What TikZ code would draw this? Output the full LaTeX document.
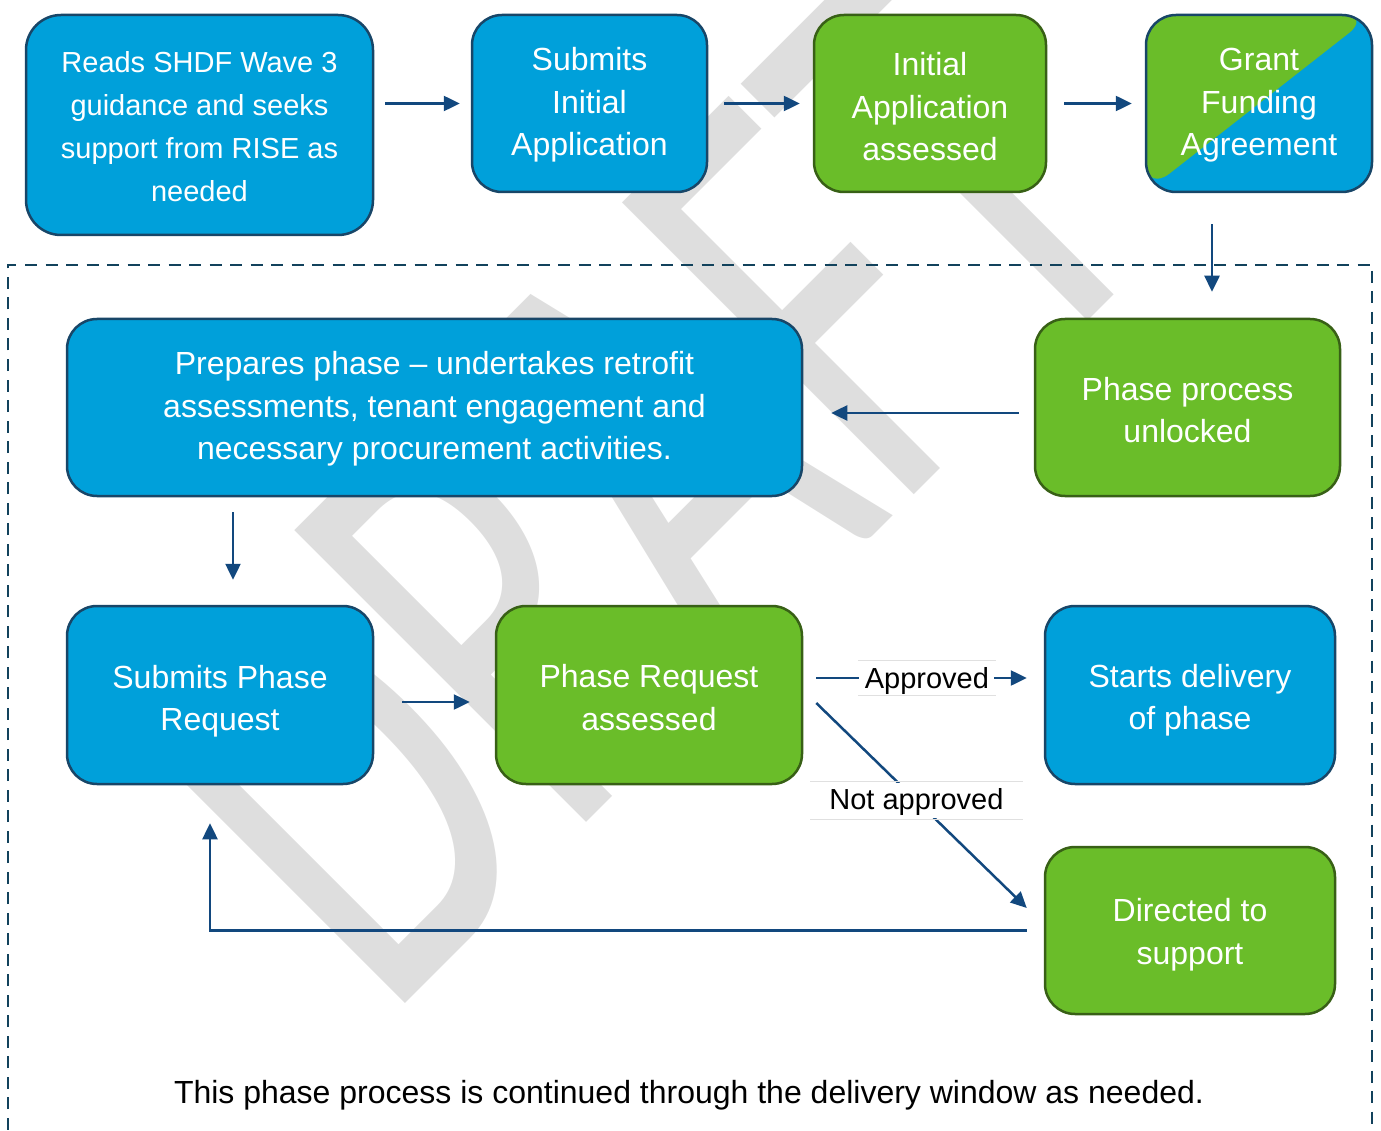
\documentclass[tikz,border=0pt]{standalone}
\usepackage{fontspec}
\setmainfont{Liberation Sans}
\newfontfamily\wmfont{Carlito}
\usetikzlibrary{arrows.meta}
\definecolor{cblue}{RGB}{0,160,218}
\definecolor{cblueb}{RGB}{24,70,104}
\definecolor{cgreen}{RGB}{106,189,41}
\definecolor{cgreenb}{RGB}{56,96,22}
\definecolor{carrow}{RGB}{18,72,126}
\definecolor{cdash}{RGB}{18,66,92}
\definecolor{cwm}{RGB}{222,222,222}
\begin{document}
\begin{tikzpicture}[x=1pt,y=-1pt,
  box/.style={rounded corners=30pt, line width=2.5pt, inner sep=0pt},
  bbox/.style={box, fill=cblue, draw=cblueb},
  gbox/.style={box, fill=cgreen, draw=cgreenb},
  btext/.style={text=white, align=center, inner sep=0pt, font=\fontsize{32}{42.5}\selectfont},
  arr/.style={draw=carrow, line width=2.5pt, -{Triangle[length=16pt,width=15pt]}},
  lbl/.style={fill=white, text=black, font=\fontsize{29}{34}\selectfont, inner ysep=0pt, inner xsep=0pt},
  faint/.style={draw=black!12, line width=0.8pt},
]
\path[use as bounding box] (0,0) rectangle (1381,1131);
\clip (0,0) rectangle (1381,1131);

% watermark
\node[text=cwm, font=\wmfont\fontsize{415}{415}\selectfont, inner sep=0pt, anchor=base west, rotate=45, yscale=1.55] (wm) at (385,1024) {DRAFT};

% dashed frame
\draw[cdash, line width=2.8pt, dash pattern=on 12pt off 8.5pt] (8,1150) -- (8,265) -- (1372,265) -- (1372,1150);

% boxes
\node[bbox, minimum width=347pt, minimum height=220pt, rounded corners=35pt] (b1) at (199.5,125) {};
\node[btext, font=\fontsize{29}{43}\selectfont] (t1) at ([yshift=-2pt]b1.center) {Reads SHDF Wave 3\\guidance and seeks\\support from RISE as\\needed};
\node[bbox, minimum width=235pt, minimum height=177pt] (b2) at (589.5,103.5) {};
\node[btext] (t2) at ([yshift=-1.5pt]b2.center) {Submits\\Initial\\Application};
\node[gbox, minimum width=232pt, minimum height=177pt] (b3) at (930,103.5) {};
\node[btext] (t3) at ([yshift=-3.5pt]b3.center) {Initial\\Application\\assessed};
\node[bbox, minimum width=226pt, minimum height=177pt,
  path picture={\fill[cgreen] (path picture bounding box.south west) -- (path picture bounding box.north west) -- (path picture bounding box.north east) -- cycle;}] (b4) at (1259,103.5) {};
\node[btext] (t4) at ([yshift=-2pt]b4.center) {Grant\\Funding\\Agreement};
\node[bbox, minimum width=735pt, minimum height=177pt] (b5) at (434.5,407.5) {};
\node[btext] (t5) at ([yshift=-1.5pt]b5.center) {Prepares phase -- undertakes retrofit\\assessments, tenant engagement and\\necessary procurement activities.};
\node[gbox, minimum width=305pt, minimum height=177pt] (b6) at (1187.5,407.5) {};
\node[btext] (t6) at ([yshift=-2.5pt]b6.center) {Phase process\\unlocked};
\node[bbox, minimum width=306pt, minimum height=178pt] (b7) at (220,695) {};
\node[btext] (t7) at ([yshift=-6pt]b7.center) {Submits Phase\\Request};
\node[gbox, minimum width=306pt, minimum height=178pt] (b8) at (649,695) {};
\node[btext] (t8) at ([yshift=-2.5pt]b8.center) {Phase Request\\assessed};
\node[bbox, minimum width=290pt, minimum height=178pt] (b9) at (1190,695) {};
\node[btext] (t9) at ([yshift=-5pt]b9.center) {Starts delivery\\of phase};
\node[gbox, minimum width=290pt, minimum height=167pt] (b10) at (1190,930.5) {};
\node[btext] (t10) at ([yshift=-4pt]b10.center) {Directed to\\support};

% connectors
\draw[arr, shorten <=11pt, shorten >=11pt] (b1.east |- b2.west) -- (b2.west);
\draw[arr, shorten <=16pt, shorten >=13pt] (b2.east) -- (b3.west);
\draw[arr, shorten <=17pt, shorten >=13pt] (b3.east) -- (b4.west);
\draw[arr, shorten <=31pt, shorten >=26pt] ([xshift=-47pt]b4.south) -- ([xshift=-47pt]b4.south |- b6.north);
\draw[arr, shorten <=15pt, shorten >=28pt] ([yshift=-5.5pt]b6.west) -- ([yshift=-5.5pt]b6.west -| b5.east);
\draw[arr, shorten <=15pt, shorten >=25pt] ([xshift=13pt]b7.north |- b5.south) -- ([xshift=13pt]b7.north);
\draw[arr, shorten <=28pt, shorten >=25pt] ([yshift=-7pt]b7.east) -- ([yshift=-7pt]b8.west);
\draw[arr, shorten <=13pt, shorten >=17pt] ([yshift=17pt]b8.east) -- node[lbl, pos=0.514, minimum width=135pt, text height=27pt, text depth=6pt] (la) {Approved} ([yshift=17pt]b9.west);
\draw[arr] ([xshift=13pt,yshift=-8pt]b8.east) -- node[lbl, pos=0.476, minimum width=210pt, text height=26pt, text depth=9pt] (lb) {Not approved} ([xshift=-17pt,yshift=22.5pt]b10.west);
\draw[arr, shorten <=17pt, shorten >=38pt] (b10.west) -| ([xshift=-10pt]b7.south);
\draw[faint] (la.north west) -- (la.north east) (la.south west) -- (la.south east);
\draw[faint] (lb.north west) -- (lb.north east) (lb.south west) -- (lb.south east);

\node[font=\fontsize{32}{38}\selectfont, inner sep=0pt] (note) at (689,1095) {This phase process is continued through the delivery window as needed.};
\end{tikzpicture}
\end{document}
